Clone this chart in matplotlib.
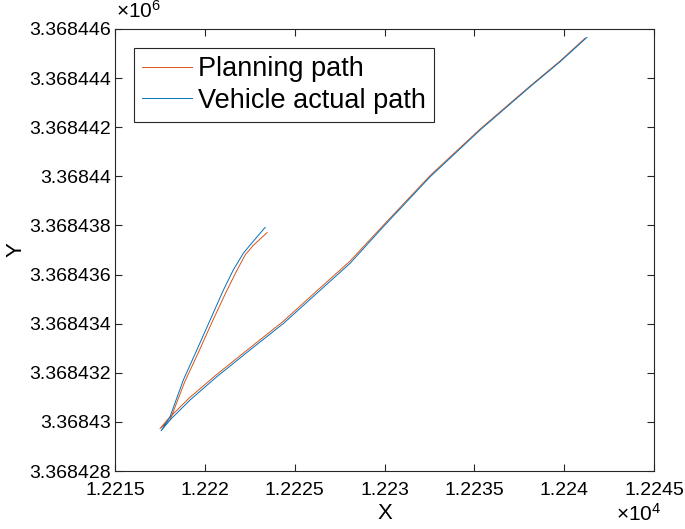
import numpy as np
import matplotlib
matplotlib.use('Agg')
import matplotlib.pyplot as plt

# --- data (X in m, Y in m) ---
plan_x = [12223.46, 12222.68, 12222.24, 12221.73, 12221.18, 12220.40, 12219.65,
          12218.87, 12218.06, 12217.50, 12217.95, 12219.12, 12220.62, 12222.46,
          12224.35, 12226.19, 12228.05, 12229.92, 12232.53, 12235.32, 12238.10,
          12239.77, 12241.16]
plan_y = [3368437.71, 3368437.18, 3368436.80, 3368436.10, 3368435.29, 3368434.07,
          3368432.85, 3368431.62, 3368430.08, 3368429.73, 3368430.12, 3368430.97,
          3368431.91, 3368432.99, 3368434.09, 3368435.31, 3368436.53, 3368438.00,
          3368440.03, 3368441.93, 3368443.68, 3368444.70, 3368445.63]

veh_x = [12223.35, 12222.51, 12222.14, 12221.58, 12221.03, 12220.29, 12219.55,
         12218.80, 12218.06, 12217.56, 12218.06, 12219.17, 12220.66, 12222.51,
         12224.37, 12226.23, 12228.08, 12229.93, 12232.53, 12235.32, 12238.10,
         12239.77, 12241.26]
veh_y = [3368437.92, 3368437.20, 3368436.87, 3368436.19, 3368435.37, 3368434.15,
         3368432.93, 3368431.71, 3368430.21, 3368429.64, 3368430.08, 3368430.89,
         3368431.84, 3368432.93, 3368434.01, 3368435.24, 3368436.46, 3368437.95,
         3368439.98, 3368441.89, 3368443.65, 3368444.67, 3368445.66]

x_ticks = [12215, 12220, 12225, 12230, 12235, 12240, 12245]
y_ticks = [3368428, 3368430, 3368432, 3368434, 3368436, 3368438, 3368440,
           3368442, 3368444, 3368446]

plt.rcParams['font.family'] = ['Liberation Sans', 'DejaVu Sans']
plt.rcParams['mathtext.fontset'] = 'custom'
plt.rcParams['mathtext.rm'] = 'Liberation Sans'

fig = plt.figure(figsize=(6.85, 5.29), dpi=100)
ax = fig.add_axes([0.168, 0.1096, 0.787, 0.8356])

ax.plot(plan_x, plan_y, color='#D95319', lw=0.7, label='Planning path')
ax.plot(veh_x, veh_y, color='#0072BD', lw=0.7, label='Vehicle actual path')

ax.set_xlim(12215, 12245)
ax.set_ylim(3368428, 3368446)
ax.set_xticks(x_ticks)
ax.set_yticks(y_ticks)
ax.set_xticklabels([f"{v / 1e4:.4f}".rstrip('0') for v in x_ticks])
ax.set_yticklabels([f"{v / 1e6:.6f}".rstrip('0') for v in y_ticks])

edge = '#262626'
for s in ax.spines.values():
    s.set_color(edge)
    s.set_linewidth(0.8)
ax.tick_params(direction='in', length=5, width=0.8, color=edge,
               labelsize=14, top=True, right=True, pad=3)
ax.tick_params(axis='x', pad=8)

ax.set_xlabel('X', fontsize=16, labelpad=3)
ax.set_ylabel('Y', fontsize=16, labelpad=2)

fig.text(0.170, 0.958, r'$\mathregular{\times10^{6}}$', fontsize=15, ha='left', va='bottom')
fig.text(0.965, 0.008, r'$\mathregular{\times10^{4}}$', fontsize=15, ha='right', va='bottom')

leg = ax.legend(loc='upper left', bbox_to_anchor=(0.035, 0.957), fontsize=19.5,
                frameon=True, fancybox=False, edgecolor=edge, framealpha=1,
                handlelength=1.85, handletextpad=0.2, borderpad=0.3,
                labelspacing=0.2, borderaxespad=0)
leg.get_frame().set_linewidth(0.8)

fig.savefig('out.png', dpi=100)
